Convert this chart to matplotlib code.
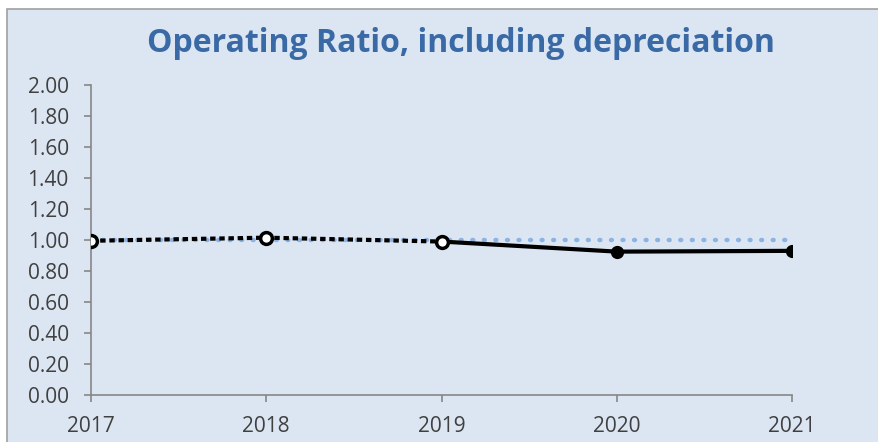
import matplotlib
matplotlib.use("Agg")
import matplotlib.pyplot as plt
from matplotlib.patches import Rectangle
import numpy as np

years = [2017, 2018, 2019, 2020, 2021]
actual = [np.nan, np.nan, 0.99, 0.925, 0.93]
dotted_years = [2017, 2018, 2019]
dotted_vals = [0.995, 1.015, 0.99]
target = [1.00, 1.00, 1.00, 1.00, 1.00]
yticks = [0.0, 0.2, 0.4, 0.6, 0.8, 1.0, 1.2, 1.4, 1.6, 1.8, 2.0]

plt.rcParams['font.family'] = ['Open Sans', 'DejaVu Sans']
bg = '#dce6f2'
fig = plt.figure(figsize=(8.79, 4.42), dpi=100)
fig.patch.set_facecolor('white')
fig.patches.append(Rectangle((7/879, -0.5), 5, 1 - 9/442 + 0.5, transform=fig.transFigure,
                             facecolor=bg, edgecolor='#a0a0a0', linewidth=1.2, zorder=-5))

ax = fig.add_axes([91/879, 1 - 395/442, (792 - 91)/879, (395 - 85)/442])
ax.set_facecolor(bg)
ax.patch.set_alpha(0)

ax.plot(years, target, color='#8db3e2', linestyle=(0, (0.2, 2.4)), linewidth=3.2,
        dash_capstyle='round', zorder=2)
ax.plot(years, actual, color='black', linewidth=3, marker='o', markersize=8.5, zorder=3)
ax.plot(dotted_years, dotted_vals, color='black', linestyle=(0, (1.3, 0.9)), linewidth=3,
        dash_capstyle='butt', marker='o', markersize=8.5, markerfacecolor='white',
        markeredgecolor='black', markeredgewidth=2.5, zorder=4)

ax.set_xlim(2017, 2021)
ax.set_ylim(0, 2.0)
ax.set_yticks(yticks)
ax.set_yticklabels([f"{v:.2f}" for v in yticks])
ax.set_xticks(years)
ax.set_xticklabels([str(y) for y in years])
for s in ['top', 'right']:
    ax.spines[s].set_visible(False)
for s in ['left', 'bottom']:
    ax.spines[s].set_color('#868686')
    ax.spines[s].set_linewidth(1.2)
ax.tick_params(axis='both', direction='out', color='#868686', length=5, width=1.2,
               labelsize=15, labelcolor='#404040')
ax.tick_params(axis='x', pad=10)
ax.tick_params(axis='y', pad=11)

fig.text(461/879, 1 - 43/442, 'Operating Ratio, including depreciation', ha='center', va='center',
         fontsize=23, fontweight='bold', color='#3a6aa6')

fig.savefig('out.png', dpi=100, facecolor='white')
